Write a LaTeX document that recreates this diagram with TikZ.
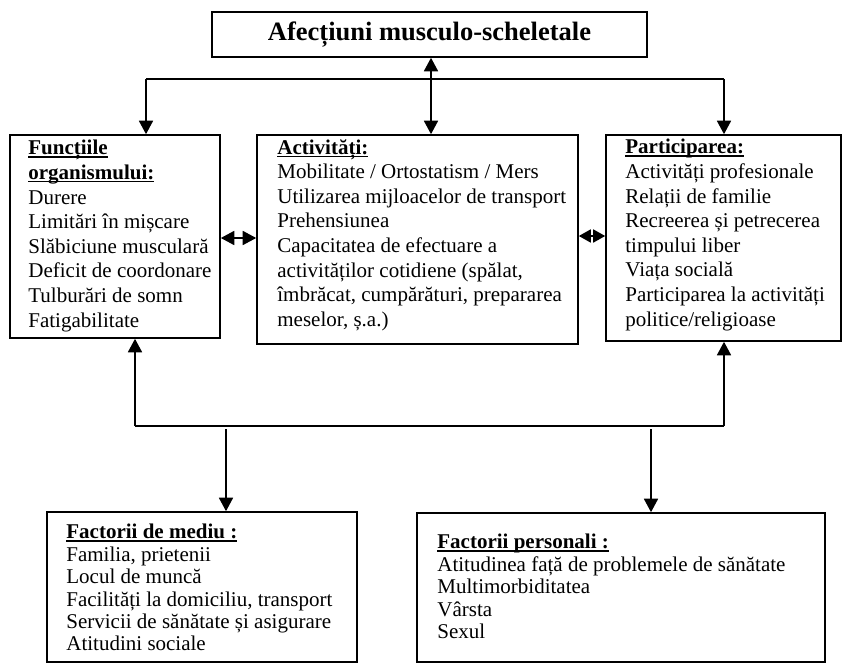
\documentclass[tikz,border=0pt]{standalone}
\usepackage{fontspec}
\setmainfont{Liberation Serif}
\usetikzlibrary{arrows.meta,positioning}

\newcommand\sublin[1]{\leavevmode\setbox0=\hbox{\textbf{#1}}\rlap{\rule[-2.8pt]{\wd0}{1.3pt}}\box0}

\begin{document}
\begin{tikzpicture}[x=1pt,y=1pt,
        >={Triangle[length=13.5pt,width=14pt]},
        cutie/.style={draw,line width=1.6pt,inner sep=0pt},
        scris/.style={inner sep=0pt,align=left,font=\fontsize{21}{24.6}\selectfont},
        sageata/.style={line width=1.7pt},
        linie/.style={line width=1.2pt}]
        \useasboundingbox (0,0) rectangle (845,-666);
        % boxes
        \node [cutie,minimum width=435pt,minimum height=45pt,font=\fontsize{26.5}{30}\selectfont\bfseries] (titlu) at (429.5,-34.5) {Afecțiuni musculo-scheletale};
        \node [cutie,minimum width=210pt,minimum height=203pt] (functii) at (115,-236.5) {};
        \node [cutie,minimum width=321pt,minimum height=209pt] (activ) at (417.5,-239.5) {};
        \node [cutie,minimum width=235pt,minimum height=206pt] (partic) at (723.5,-238) {};
        \node [cutie,minimum width=310pt,minimum height=150pt] (mediu) at (202,-587) {};
        \node [cutie,minimum width=408pt,minimum height=149pt] (personal) at (621,-587.5) {};
        % texts
        \node [scris,below right=6pt and 19pt of functii.north west] (functii-txt) {\sublin{Funcțiile}\\ \sublin{organismului:}\\ Durere\\ Limitări în mișcare\\ Slăbiciune musculară\\ Deficit de coordonare\\ Tulburări de somn\\ Fatigabilitate};
        \node [scris,below right=5pt and 21pt of activ.north west] (activ-txt) {\sublin{Activități:}\\ Mobilitate / Ortostatism / Mers\\ Utilizarea mijloacelor de transport\\ Prehensiunea\\ Capacitatea de efectuare a\\ activităților cotidiene (spălat,\\ îmbrăcat, cumpărături, prepararea\\ meselor, ș.a.)};
        \node [scris,below right=5pt and 20pt of partic.north west] (partic-txt) {\sublin{Participarea:}\\ Activități profesionale\\ Relații de familie\\ Recreerea și petrecerea\\ timpului liber\\ Viața socială\\ Participarea la activități\\ politice/religioase};
        \node [scris,font=\fontsize{21}{22.4}\selectfont,below right=13pt and 20pt of mediu.north west] (mediu-txt) {\sublin{Factorii de mediu :}\\ Familia, prietenii\\ Locul de muncă\\ Facilități la domiciliu, transport\\ Servicii de sănătate și asigurare\\ Atitudini sociale};
        \node [scris,font=\fontsize{21}{22.4}\selectfont,below right=22pt and 21pt of personal.north west] (personal-txt) {\sublin{Factorii personali :}\\ Atitudinea față de problemele de sănătate\\ Multimorbiditatea\\ Vârsta\\ Sexul};
        % connectors
        \coordinate (sus-st) at (146,-79);
        \coordinate (sus-dr) at (724,-79);
        \coordinate (jos-st) at (135,-426);
        \coordinate (jos-dr) at (724,-426);
        \coordinate (cob-st) at (226,-429);
        \coordinate (cob-dr) at (651,-429);
        \draw [linie] (sus-st) -- (sus-dr);
        \draw [sageata,->] (sus-st) -- (functii.north -| sus-st);
        \draw [sageata,->] (sus-dr) -- (partic.north -| sus-dr);
        \draw [sageata,<->] (titlu.south -| 431,0) -- (activ.north -| 431,0);
        \draw [sageata,<->] (functii.east |- 0,-238) -- (activ.west |- 0,-238);
        \draw [sageata,{Triangle[length=12pt,width=13pt]}-{Triangle[length=12pt,width=13pt]}] (activ.east |- 0,-236) -- (partic.west |- 0,-236);
        \draw [linie] (jos-st) -- (jos-dr);
        \draw [sageata,->] (jos-st) -- (functii.south -| jos-st);
        \draw [sageata,->] (jos-dr) -- (partic.south -| jos-dr);
        \draw [sageata,->] (cob-st) -- (mediu.north -| cob-st);
        \draw [sageata,->] (cob-dr) -- (personal.north -| cob-dr);
\end{tikzpicture}
\end{document}
